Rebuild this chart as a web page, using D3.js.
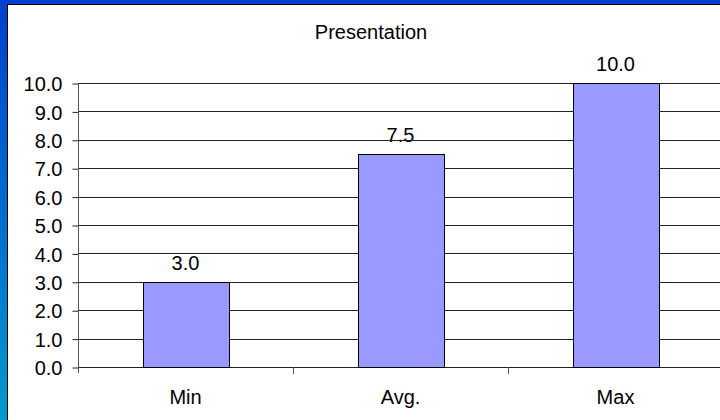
<!DOCTYPE html>
<html><head><meta charset="utf-8">
<script src="https://cdn.jsdelivr.net/npm/d3@7"></script>
<style>body{margin:0;padding:0;overflow:hidden;}svg{display:block;}</style>
</head><body>
<svg id="c" width="720" height="420"></svg>
<script>
const title = "Presentation";
const categories = ["Min", "Avg.", "Max"];
const values = [3.0, 7.5, 10.0];
const yTicks = [0,1,2,3,4,5,6,7,8,9,10];

const svg = d3.select("#c");
const W = 720, H = 420;
const defs = svg.append("defs");
const g = defs.append("linearGradient").attr("id","bg").attr("x1",0).attr("y1",0).attr("x2",0).attr("y2",1);
g.append("stop").attr("offset","0%").attr("stop-color","#0040d0");
g.append("stop").attr("offset","100%").attr("stop-color","#009acc");
svg.append("rect").attr("width",W).attr("height",H).attr("fill","url(#bg)");
// panel
svg.append("rect").attr("x",7).attr("y",4).attr("width",W).attr("height",H).attr("fill","#000");
svg.append("rect").attr("x",8).attr("y",5).attr("width",W).attr("height",H).attr("fill","#fff");

const font = "'Liberation Sans', Arial, sans-serif";
const x = d3.scaleBand().domain(categories).range([78, 723]).padding(0);
const y = d3.scaleLinear().domain([0, 10]).range([367, 83]);

// value labels (drawn beneath gridlines, as in the reference)
svg.append("g").selectAll("text").data(values).join("text")
  .attr("x", (d,i) => x(categories[i]) + x.bandwidth()/2)
  .attr("y", d => y(d) - 12)
  .attr("text-anchor", "middle").attr("font-family", font).attr("font-size", 20).attr("fill", "#000")
  .text(d => d3.format(".1f")(d));

// gridlines
svg.append("g").selectAll("line").data(yTicks).join("line")
  .attr("x1", 78).attr("x2", W)
  .attr("y1", d => Math.round(y(d)) + 0.5).attr("y2", d => Math.round(y(d)) + 0.5)
  .attr("stroke", "#222").attr("stroke-width", 1);

// y axis
const yAxis = d3.axisLeft(y).tickValues(yTicks).tickFormat(d3.format(".1f")).tickSize(6).tickPadding(10);
const ya = svg.append("g").attr("transform", "translate(78.5,0.5)").call(yAxis);
ya.select(".domain").remove();
ya.selectAll(".tick line").attr("stroke", "#222");
ya.selectAll(".tick text").attr("font-family", font).attr("font-size", 20).attr("fill", "#000").attr("dy","0.36em");
svg.append("line").attr("x1",78.5).attr("x2",78.5).attr("y1",83).attr("y2",373).attr("stroke","#555");

// bars
const bw = x.bandwidth() * 0.4;
svg.append("g").selectAll("rect").data(values).join("rect")
  .attr("x", (d,i) => Math.round(x(categories[i]) + x.bandwidth()/2 - bw/2) + 0.5)
  .attr("y", d => Math.round(y(d)) + 0.5)
  .attr("width", Math.round(bw))
  .attr("height", d => Math.round(y(0)) - Math.round(y(d)))
  .attr("fill", "#9999ff").attr("stroke", "#000").attr("stroke-width", 1);

// x axis
const xAxis = d3.axisBottom(x).tickSize(0).tickPadding(0);
const xa = svg.append("g").attr("transform", "translate(0,367.5)").call(xAxis);
xa.select(".domain").remove();
xa.selectAll(".tick text").attr("font-family", font).attr("font-size", 20).attr("fill", "#000").attr("y", 36).attr("dy", 0);
// category boundary ticks
svg.append("g").selectAll("line").data(categories.slice(1)).join("line")
  .attr("x1", d => Math.round(x(d)) + 0.5).attr("x2", d => Math.round(x(d)) + 0.5)
  .attr("y1", 367).attr("y2", 374).attr("stroke", "#555");

// title
svg.append("text").attr("x", 371).attr("y", 39).attr("text-anchor", "middle")
  .attr("font-family", font).attr("font-size", 20).attr("fill", "#000").text(title);
</script>
</body></html>
